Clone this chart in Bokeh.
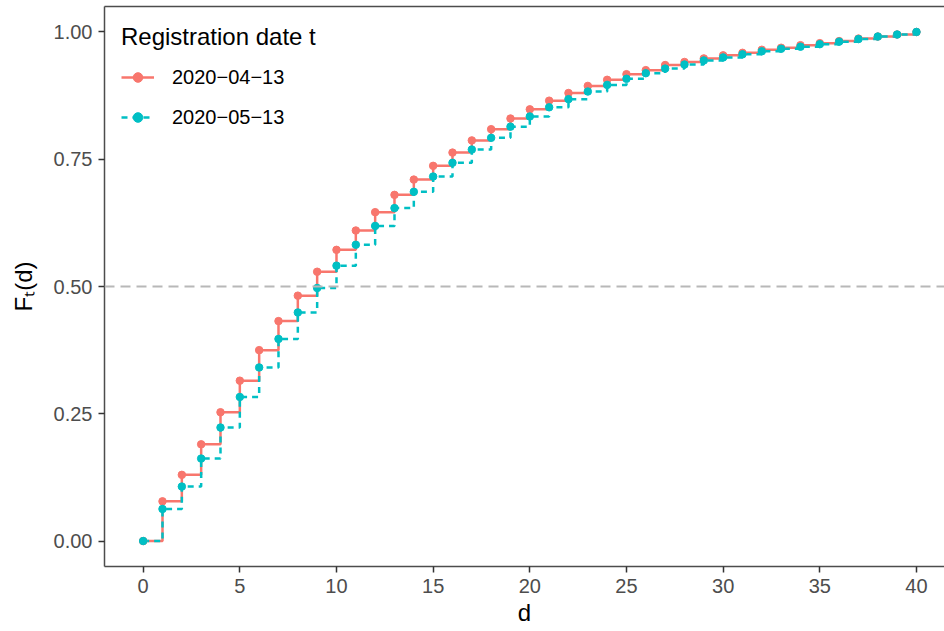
from bokeh.plotting import figure
from bokeh.models import (Range1d, FixedTicker, LinearAxis, Legend, LegendItem, Span)
from bokeh.embed import file_html
from bokeh.resources import INLINE

# ---------------- data ----------------
d = list(range(41))
f_apr13 = [0.000, 0.078, 0.130, 0.190, 0.253, 0.315, 0.375, 0.432, 0.482, 0.529,
           0.572, 0.610, 0.646, 0.680, 0.710, 0.737, 0.763, 0.787, 0.809, 0.830,
           0.848, 0.865, 0.880, 0.894, 0.906, 0.917, 0.925, 0.935, 0.941, 0.948,
           0.954, 0.959, 0.965, 0.969, 0.974, 0.978, 0.982, 0.987, 0.991, 0.995,
           1.000]
f_may13 = [0.000, 0.063, 0.107, 0.162, 0.223, 0.283, 0.341, 0.397, 0.449, 0.497,
           0.541, 0.582, 0.619, 0.654, 0.686, 0.716, 0.743, 0.769, 0.792, 0.814,
           0.834, 0.852, 0.868, 0.883, 0.896, 0.908, 0.919, 0.928, 0.936, 0.944,
           0.950, 0.956, 0.962, 0.967, 0.971, 0.976, 0.981, 0.986, 0.991, 0.995,
           1.000]
series_labels = ["2020\u221204\u221213", "2020\u221205\u221213"]
legend_title = "Registration date t"
x_ticks = [0, 5, 10, 15, 20, 25, 30, 35, 40]
y_ticks = [0.0, 0.25, 0.5, 0.75, 1.0]
y_tick_labels = ["0.00", "0.25", "0.50", "0.75", "1.00"]
reference_level = 0.5
x_title = "d"
y_title = "F\u209c(d)"

RED = "#F8766D"
TEAL = "#00BFC4"
FONT = "Liberation Sans"
AXIS_COL = "#4D4D4D"

p = figure(width=944, height=631, output_backend="svg", toolbar_location=None,
           x_range=Range1d(-2, 41.45), y_range=Range1d(-0.05, 1.05),
           min_border_left=104, min_border_right=0, min_border_top=6,
           min_border_bottom=65)
p.outline_line_color = None
p.xgrid.visible = False
p.ygrid.visible = False
p.background_fill_color = "white"
p.border_fill_color = "white"

# reference line
p.add_layout(Span(location=reference_level, dimension="width",
                  line_color="#B8B8B8", line_width=2, line_dash="10 6"))

r_line1 = p.step(d, f_apr13, mode="after", line_color=RED, line_width=2.5)
r_line2 = p.step(d, f_may13, mode="after", line_color=TEAL, line_width=2.5,
                 line_dash="6 5")
r_pt1 = p.scatter(d, f_apr13, size=7.5, fill_color=RED, line_color=RED)
r_pt2 = p.scatter(d, f_may13, size=7.5, fill_color=TEAL, line_color=TEAL)

# axes
for ax in (p.xaxis[0], p.yaxis[0]):
    ax.axis_line_color = AXIS_COL
    ax.axis_line_width = 1.5
    ax.major_tick_line_color = "#333333"
    ax.major_tick_line_width = 1.5
    ax.major_tick_out = 6
    ax.major_tick_in = 0
    ax.minor_tick_line_color = None
    ax.major_label_text_font = FONT
    ax.major_label_text_font_size = "20px"
    ax.major_label_text_color = AXIS_COL
    ax.major_label_standoff = 6
    ax.axis_label_text_font = FONT
    ax.axis_label_text_font_size = "24px"
    ax.axis_label_text_font_style = "normal"
    ax.axis_label_text_color = "black"

p.xaxis[0].ticker = FixedTicker(ticks=x_ticks)
p.xaxis[0].axis_label = x_title
p.xaxis[0].axis_label_standoff = 3
p.xaxis[0].major_label_standoff = 6
p.yaxis[0].ticker = FixedTicker(ticks=y_ticks)
p.yaxis[0].major_label_overrides = {t: s for t, s in zip(y_ticks, y_tick_labels)}
p.yaxis[0].axis_label = y_title
p.yaxis[0].axis_label_standoff = 14

top = LinearAxis(ticker=FixedTicker(ticks=[]), axis_line_color=AXIS_COL,
                 axis_line_width=1.5, major_tick_line_color=None,
                 minor_tick_line_color=None, major_label_text_font_size="0px",
                 major_label_standoff=0)
p.add_layout(top, "above")

legend = Legend(items=[LegendItem(label=series_labels[0], renderers=[r_line1, r_pt1]),
                       LegendItem(label=series_labels[1], renderers=[r_line2, r_pt2])],
                location="top_left", title=legend_title)
legend.margin = 17
legend.padding = 0
legend.border_line_color = None
legend.background_fill_alpha = 0.0
legend.title_text_font = FONT
legend.title_text_font_size = "24px"
legend.title_text_font_style = "normal"
legend.title_text_color = "black"
legend.title_standoff = 14
legend.label_text_font = FONT
legend.label_text_font_size = "20px"
legend.label_text_color = "black"
legend.glyph_width = 33
legend.glyph_height = 24
legend.label_height = 24
legend.label_standoff = 18
legend.spacing = 16
p.add_layout(legend)

open("out.html", "w").write(file_html(p, INLINE))
